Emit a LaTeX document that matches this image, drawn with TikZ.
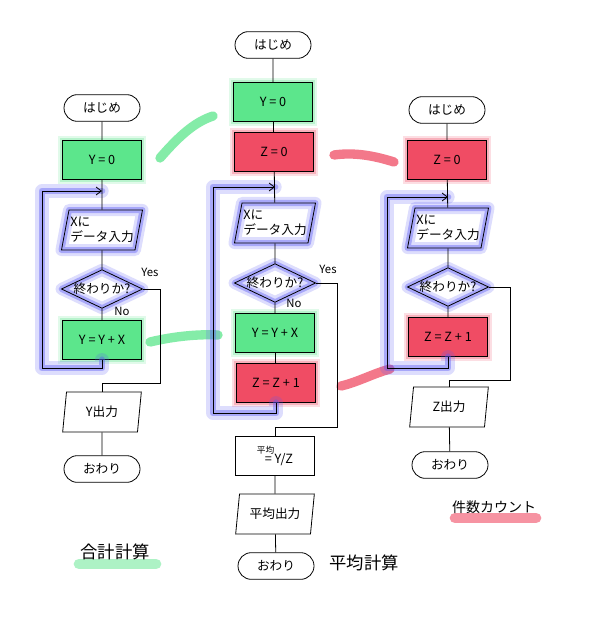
\documentclass[tikz,border=0pt]{standalone}
\usepackage{fontspec}
\setmainfont{Noto Sans CJK JP}
\definecolor{hlgreen}{RGB}{92,230,140}
\definecolor{hlred}{RGB}{240,76,100}
\definecolor{hlblue}{RGB}{88,88,245}
\usetikzlibrary{arrows.meta,shapes.geometric,shapes.misc}
\tikzset{
  base/.style={draw=black, line width=0.6pt, font=\fontsize{9.5}{11}\selectfont, inner sep=1pt},
  term/.style={base, rounded rectangle, minimum width=59pt, minimum height=20pt},
  proc/.style={base, rectangle, minimum width=59pt, minimum height=29pt},
  iobox/.style={base, trapezium, trapezium left angle=75, trapezium right angle=105,
    trapezium stretches body, minimum width=59pt, minimum height=30pt, align=left},
  dec/.style={base, diamond, aspect=2.1, minimum width=60pt, minimum height=28pt, inner sep=0pt},
  sumbox/.style={proc, fill=hlgreen,
    preaction={draw=hlgreen, line width=7pt, opacity=.18},
    preaction={draw=hlgreen, line width=3.5pt, opacity=.3}},
  cntbox/.style={proc, fill=hlred,
    preaction={draw=hlred, line width=7pt, opacity=.18},
    preaction={draw=hlred, line width=3.5pt, opacity=.3}},
  loopglow/.style={preaction={draw=hlblue, line width=9pt, opacity=.2, line join=round},
    preaction={draw=hlblue, line width=4.5pt, opacity=.4, line join=round}},
  glowb/.style={draw=hlblue, line width=5pt, opacity=.4, line join=round, line cap=round,
    preaction={draw=hlblue, line width=10pt, opacity=.2, line join=round, line cap=round}},
  link/.style={draw=black, line width=0.6pt},
  back/.style={link, -{Straight Barb[length=4pt,width=6pt]}},
  stroke/.style={line width=7pt, opacity=.75, line cap=round},
  lbl/.style={font=\fontsize{8.5}{10}\selectfont, inner sep=1pt},
  note/.style={font=\fontsize{13}{15}\selectfont, inner sep=1pt}
}
\begin{document}
\begin{tikzpicture}[x=0.75pt, y=-0.75pt]
  \useasboundingbox[fill=white] (0,0) rectangle (597,627);

  %% Highlight strokes between the charts
  \draw[stroke, hlgreen] (160,158) .. controls (180,135) and (195,122) .. (213,116);
  \draw[stroke, hlgreen] (150,342) .. controls (175,336) and (200,334) .. (218,335);
  \draw[stroke, hlred] (334,155) .. controls (355,152) and (375,156) .. (394,162);
  \draw[stroke, hlred] (341,386) .. controls (358,382) and (372,374) .. (390,369);
  \draw[stroke, hlgreen, line width=8pt, opacity=.5] (79,564) -- (156,564);
  \draw[stroke, hlred, line width=8pt, opacity=.6] (455,518) -- (536,518);

  %% Left chart: total
  \node[term] (startL) at (102,108) {はじめ};
  \node[sumbox] (initL) at (102,160) {Y = 0};
  \node[iobox, loopglow] (inL) at (102,230) {Xに\\データ入力};
  \node[dec, loopglow] (decL) at (102,289) {終わりか?};
  \node[sumbox] (addL) at (102,340) {Y = Y + X};
  \node[iobox] (outL) at (102,412) {Y出力};
  \node[term] (endL) at (102,469) {おわり};
  \coordinate (jL) at (102,191);
  \coordinate (lbL) at (42,368);
  \coordinate (ycL) at (160,383);
  \draw[glowb] (addL.south) |- (lbL) |- (jL);
  \draw[link] (startL) -- (initL) -- (inL) -- (decL) -- (addL);
  \draw[back] (addL.south) |- (lbL) |- (jL);
  \draw[link] (decL.east) -| (ycL) -| (outL.north);
  \draw[link] (outL) -- (endL);
  \node[lbl] (yesL) at (150,272) {Yes};
  \node[lbl] (noL) at (122,311) {No};
  \node[note] (sumL) at (115,552) {合計計算};

  %% Middle chart: average
  \node[term] (startM) at (273,45) {はじめ};
  \node[sumbox] (initYM) at (273,102) {Y = 0};
  \node[cntbox] (initZM) at (274,152) {Z = 0};
  \node[iobox, loopglow] (inM) at (275,223) {Xに\\データ入力};
  \node[dec, loopglow] (decM) at (275,283) {終わりか?};
  \node[sumbox] (addM) at (275,333) {Y = Y + X};
  \node[cntbox] (incM) at (276,383) {Z = Z + 1};
  \node[proc, align=left] (avgM) at (275,456) {{\fontsize{6.5}{7}\selectfont 平均}\\[-3pt]\hspace{6pt}= Y/Z};
  \node[iobox] (outM) at (275,514) {平均出力};
  \node[term] (endM) at (276,566) {おわり};
  \coordinate (jM) at (275,187);
  \coordinate (lbM) at (213,413);
  \coordinate (ycM) at (337,427);
  \draw[glowb] (incM.south) |- (lbM) |- (jM);
  \draw[link] (startM) -- (initYM) -- (initZM) -- (inM) -- (decM) -- (addM) -- (incM);
  \draw[back] (incM.south) |- (lbM) |- (jM);
  \draw[link] (decM.east) -| (ycM) -| (avgM.north);
  \draw[link] (avgM) -- (outM) -- (endM);
  \node[lbl] (yesM) at (328,269) {Yes};
  \node[lbl] (noM) at (294,303) {No};
  \node[note] (avgLbl) at (364,563) {平均計算};

  %% Right chart: count
  \node[term] (startR) at (447,110) {はじめ};
  \node[cntbox] (initR) at (447,160) {Z = 0};
  \node[iobox, loopglow] (inR) at (448,228) {Xに\\データ入力};
  \node[dec, loopglow] (decR) at (448,287) {終わりか?};
  \node[cntbox] (incR) at (448,337) {Z = Z + 1};
  \node[iobox] (outR) at (449,407) {Z出力};
  \node[term] (endR) at (450,465) {おわり};
  \coordinate (jR) at (448,197);
  \coordinate (lbR) at (387,368);
  \coordinate (ycR) at (510,380);
  \draw[glowb] (incR.south) |- (lbR) |- (jR);
  \draw[link] (startR) -- (initR) -- (inR) -- (decR) -- (incR);
  \draw[back] (incR.south) |- (lbR) |- (jR);
  \draw[link] (decR.east) -| (ycR) -| (outR.north);
  \draw[link] (outR) -- (endR);
  \node[note, font=\fontsize{10.5}{12}\selectfont] (cntLbl) at (494,507) {件数カウント};
\end{tikzpicture}
\end{document}
